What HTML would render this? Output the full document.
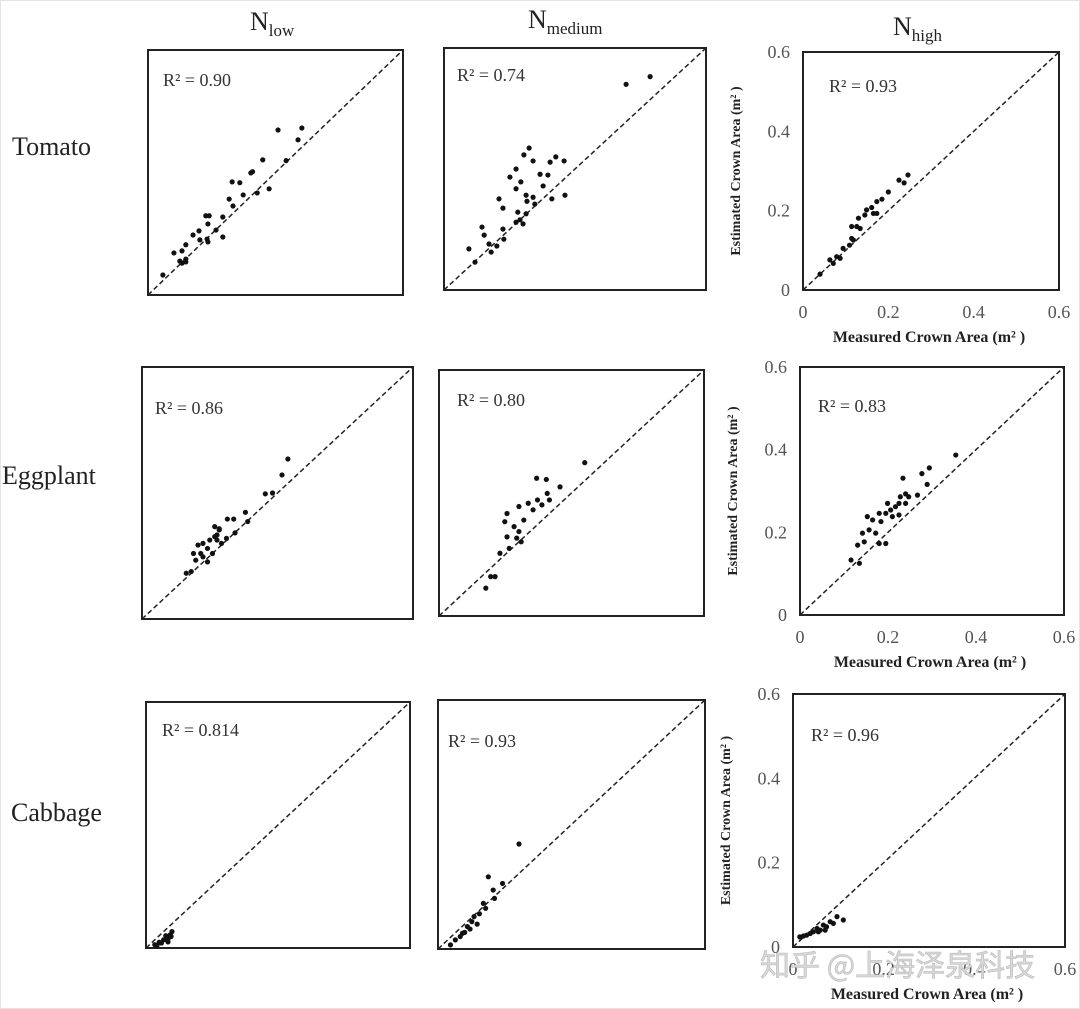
<!DOCTYPE html>
<html><head><meta charset="utf-8"><style>
html,body{margin:0;padding:0;background:#fff;}
svg{display:block;font-family:"Liberation Serif","Noto Serif CJK SC",serif;}
</style></head><body>
<svg id="chart" width="1080" height="1009" viewBox="0 0 1080 1009">
<rect x="0" y="0" width="1080" height="1009" fill="#fff"/>
<rect x="0.5" y="0.5" width="1079" height="1008" fill="none" stroke="#e4e4e4"/>
<g><text x="250" y="30" font-size="26" fill="#222">N<tspan font-size="17" dy="6">low</tspan></text></g>
<g><text x="528" y="28" font-size="26" fill="#222">N<tspan font-size="17" dy="6">medium</tspan></text></g>
<g><text x="893" y="35" font-size="26" fill="#222">N<tspan font-size="17" dy="6">high</tspan></text></g>
<text x="12" y="155" font-size="26" fill="#222">Tomato</text>
<text x="2" y="484" font-size="26" fill="#222">Eggplant</text>
<text x="11" y="821" font-size="26" fill="#222">Cabbage</text>
<g id="panels"></g>
<text x="760" y="976" font-size="30" fill="#d8d8d8" stroke="#bbb" stroke-width="0.6" font-family="'Noto Sans CJK SC',sans-serif">知乎 @上海泽泉科技</text>
</svg>
<script>
const tomatoLowX=[.306,.362,.353,.325,.27,.242,.246,.285,.257,.198,.216,.224,.191,.2,.176,.176,.16,.136,.144,.141,.139,.141,.122,.106,.12,.089,.08,.061,.08,.089,.075,.089,.035];
const tomatoLowY=[.404,.409,.38,.329,.331,.299,.302,.26,.25,.277,.275,.245,.235,.218,.191,.142,.159,.194,.194,.174,.137,.13,.135,.147,.157,.123,.108,.103,.078,.081,.083,.088,.049];
const tomatoMedX=[.417,.472,.195,.183,.204,.165,.151,.176,.165,.22,.238,.227,.243,.256,.275,.277,.247,.204,.188,.19,.208,.126,.135,.169,.188,.165,.181,.174,.135,.137,.121,.108,.103,.087,.092,.057,.071];
const tomatoMedY=[.51,.529,.352,.335,.32,.3,.28,.268,.251,.287,.285,.258,.317,.33,.32,.235,.226,.23,.235,.22,.213,.226,.203,.193,.189,.168,.164,.174,.151,.126,.109,.094,.114,.156,.136,.102,.069];
const tomatoHighX=[.246,.237,.225,.2,.185,.173,.161,.149,.165,.145,.173,.13,.126,.114,.109,.118,.094,.087,.071,.079,.063,.04,.114,.134];
const tomatoHighY=[.29,.27,.277,.247,.229,.223,.208,.202,.193,.189,.193,.181,.16,.13,.113,.126,.105,.08,.067,.084,.076,.04,.16,.155];
const eggLowX=[.323,.31,.289,.273,.229,.234,.203,.189,.206,.171,.166,.171,.161,.15,.135,.124,.145,.166,.156,.135,.119,.145,.13,.176,.187,.114,.098,.109,.161];
const eggLowY=[.381,.343,.3,.298,.254,.232,.238,.238,.205,.215,.2,.212,.196,.188,.18,.176,.168,.188,.156,.148,.14,.136,.156,.18,.192,.156,.109,.113,.22];
const eggMedX=[.33,.221,.243,.274,.245,.223,.202,.181,.213,.154,.149,.192,.17,.181,.154,.186,.138,.159,.117,.106,.127,.176,.233,.25];
const eggMedY=[.374,.336,.333,.315,.299,.283,.275,.267,.259,.25,.23,.234,.218,.206,.193,.181,.153,.165,.096,.068,.096,.19,.271,.283];
const eggHighX=[.354,.294,.277,.289,.234,.267,.24,.228,.247,.225,.24,.217,.199,.206,.195,.18,.184,.165,.157,.172,.142,.146,.131,.116,.135,.18,.195,.153,.21,.225];
const eggHighY=[.387,.356,.342,.316,.331,.29,.293,.286,.286,.27,.27,.262,.27,.254,.246,.246,.226,.23,.206,.198,.198,.177,.169,.133,.125,.173,.173,.238,.238,.242];
const cabLowX=[.02,.03,.04,.045,.05,.055,.059,.035,.025,.05,.057];
const cabLowY=[.008,.014,.02,.03,.022,.032,.04,.012,.006,.015,.028];
const cabMedX=[.182,.113,.145,.124,.127,.102,.107,.081,.076,.066,.055,.039,.028,.088,.072,.05,.06,.093];
const cabMedY=[.253,.174,.158,.142,.122,.11,.098,.078,.066,.054,.038,.022,.01,.06,.048,.03,.04,.085];
const cabHighX=[.111,.097,.089,.074,.06,.045,.03,.015,.067,.053,.082,.038,.023,.071,.056];
const cabHighY=[.064,.072,.056,.048,.04,.036,.028,.024,.052,.044,.06,.032,.026,.04,.036];
const rLabels=["R² = 0.90","R² = 0.74","R² = 0.93","R² = 0.86","R² = 0.80","R² = 0.83","R² = 0.814","R² = 0.93","R² = 0.96"];
const tickLabels=["0","0.2","0.4","0.6"];
const tickValues=[0,0.2,0.4,0.6];
const AX_MAX=0.6;

const panels=[
 {n:"tomato-nlow",x0:148,x1:403,y0:50,y1:295,xs:tomatoLowX,ys:tomatoLowY,lx:163,ly:86,axes:false},
 {n:"tomato-nmedium",x0:444,x1:706,y0:48,y1:290,xs:tomatoMedX,ys:tomatoMedY,lx:457,ly:81,axes:false},
 {n:"tomato-nhigh",x0:803,x1:1059,y0:52,y1:290,xs:tomatoHighX,ys:tomatoHighY,lx:829,ly:92,axes:true},
 {n:"eggplant-nlow",x0:142,x1:413,y0:367,y1:619,xs:eggLowX,ys:eggLowY,lx:155,ly:414,axes:false},
 {n:"eggplant-nmedium",x0:439,x1:704,y0:370,y1:616,xs:eggMedX,ys:eggMedY,lx:457,ly:406,axes:false},
 {n:"eggplant-nhigh",x0:800,x1:1064,y0:367,y1:615,xs:eggHighX,ys:eggHighY,lx:818,ly:412,axes:true},
 {n:"cabbage-nlow",x0:146,x1:410,y0:702,y1:948,xs:cabLowX,ys:cabLowY,lx:162,ly:736,axes:false},
 {n:"cabbage-nmedium",x0:438,x1:705,y0:700,y1:949,xs:cabMedX,ys:cabMedY,lx:448,ly:747,axes:false},
 {n:"cabbage-nhigh",x0:793,x1:1065,y0:694,y1:947,xs:cabHighX,ys:cabHighY,lx:811,ly:741,axes:true}
];
const NS="http://www.w3.org/2000/svg";
const root=document.getElementById("panels");
function mk(tag,attrs,parent){const e=document.createElementNS(NS,tag);for(const k in attrs)e.setAttribute(k,attrs[k]);parent.appendChild(e);return e;}
panels.forEach((p,i)=>{
 const sx=v=>p.x0+(p.x1-p.x0)*v/AX_MAX;
 const sy=v=>p.y1-(p.y1-p.y0)*v/AX_MAX;
 const g=mk("g",{},root);
 
 
 const box=mk("rect",{x:p.x0,y:p.y0,width:p.x1-p.x0,height:p.y1-p.y0,fill:"none",stroke:"#222","stroke-width":2},g);
 
 
 const d=mk("line",{x1:sx(0),y1:sy(0),x2:sx(AX_MAX),y2:sy(AX_MAX),stroke:"#222","stroke-width":1.5,"stroke-dasharray":"5,3"},g);
 
 
 const t=mk("text",{x:p.lx,y:p.ly,"font-size":18,fill:"#333"},g);
 t.textContent=rLabels[i];
 
 
 p.xs.forEach((xv,j)=>{
  const c=mk("circle",{cx:sx(xv),cy:sy(p.ys[j]),r:2.6,fill:"#111"},g);
  
  
 });
 if(p.axes){
  tickValues.forEach((v,k)=>{
   const ty=mk("text",{x:p.x0-13,y:sy(v)+6,"font-size":18,fill:"#555","text-anchor":"end"},g);
   ty.textContent=tickLabels[k];
   
   
   const tx=mk("text",{x:sx(v),y:p.y1+28,"font-size":18,fill:"#555","text-anchor":"middle"},g);
   tx.textContent=tickLabels[k];
   
   
  });
  const xt=mk("text",{x:(p.x0+p.x1)/2-2,y:p.y1+52,"font-size":16,"font-weight":"bold",fill:"#222","text-anchor":"middle"},g);
  xt.textContent="Measured Crown Area (m² )";
  
  
  const cy=(p.y0+p.y1)/2;
  const yt=mk("text",{x:0,y:0,"font-size":14,"font-weight":"bold",fill:"#222","text-anchor":"middle",transform:"translate("+(p.x0-63)+","+cy+") rotate(-90)"},g);
  yt.textContent="Estimated Crown Area (m² )";
  
  
 }
});
</script>
</body></html>
